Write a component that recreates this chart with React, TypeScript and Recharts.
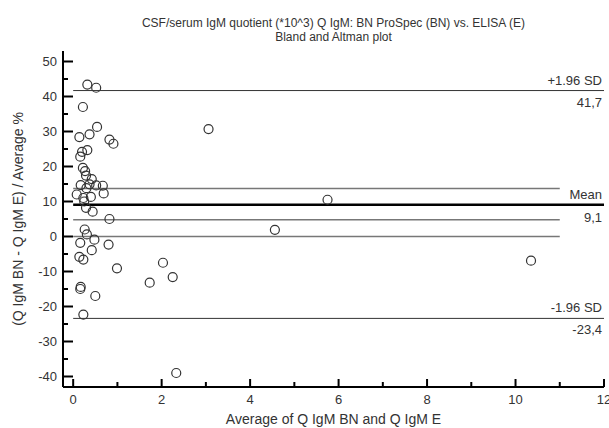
import {
  ScatterChart,
  Scatter,
  XAxis,
  YAxis,
  ReferenceLine,
} from 'recharts';

// Bland-Altman data: average of both methods vs. relative difference (%)
const avgValues = [
  0.32, 0.52, 0.22, 0.54, 3.06, 0.37, 0.14, 0.82, 0.91, 0.32,
  0.2, 0.16, 0.22, 0.27, 0.29, 0.42, 0.17, 0.37, 0.52, 0.67,
  0.3, 0.69, 0.08, 0.23, 0.4, 0.29, 0.44, 0.82, 0.26, 0.31,
  0.48, 0.16, 0.8, 0.42, 0.14, 0.23, 2.03, 0.99, 2.25, 1.73,
  0.17, 0.16, 0.5, 0.23, 2.33, 4.56, 5.75, 10.35, 0.25,
];
const diffPctValues = [
  43.4, 42.5, 37.0, 31.3, 30.7, 29.2, 28.4, 27.7, 26.5, 24.7,
  24.2, 22.8, 19.6, 18.7, 17.4, 16.4, 14.7, 14.9, 14.6, 14.5,
  13.8, 12.3, 12.0, 11.0, 11.3, 8.2, 7.1, 5.0, 2.0, 0.6,
  -0.9, -1.8, -2.3, -3.9, -5.8, -6.6, -7.5, -9.1, -11.6, -13.2,
  -14.4, -15.0, -17.0, -22.3, -39.0, 1.9, 10.5, -6.9, 10.0,
];

const meanDiff = 9.1;
const upperLimit = 41.7;
const lowerLimit = -23.4;
const meanCiUpper = 13.7;
const meanCiLower = 4.8;

const xTicks = [0, 1, 2, 3, 4, 5, 6, 7, 8, 9, 10, 11, 12];
const yTicks = [-40, -35, -30, -25, -20, -15, -10, -5, 0, 5, 10, 15, 20, 25, 30, 35, 40, 45, 50];

const FONT = '"Liberation Sans", Arial, sans-serif';
const TEXT = '#333';

const points = avgValues.map((avg, i) => ({ avg, diff: diffPctValues[i] }));

// eslint-disable-next-line @typescript-eslint/no-explicit-any
const YTick = (props: any) => {
  const { x, y, payload } = props;
  const major = payload.value % 10 === 0;
  return (
    <g>
      <line x1={x + 6} x2={x + 6 + (major ? 10 : 5)} y1={y} y2={y} stroke="#000" strokeWidth={2} />
      {major && (
        <text x={x} y={y + 4.5} textAnchor="end" fontSize={13} fill={TEXT} fontFamily={FONT}>
          {payload.value}
        </text>
      )}
    </g>
  );
};

// eslint-disable-next-line @typescript-eslint/no-explicit-any
const XTick = (props: any) => {
  const { x, y, payload } = props;
  const major = payload.value % 2 === 0;
  return (
    <g>
      <line x1={x} x2={x} y1={y} y2={y - (major ? 8 : 5)} stroke="#000" strokeWidth={2} />
      {major && (
        <text x={x} y={y + 17} textAnchor="middle" fontSize={13} fill={TEXT} fontFamily={FONT}>
          {payload.value}
        </text>
      )}
    </g>
  );
};

const limitLabel = (title: string, value: string, above: number, below: number) =>
  // eslint-disable-next-line @typescript-eslint/no-explicit-any
  (props: any) => {
    const { viewBox } = props;
    const right = viewBox.x + viewBox.width - 2;
    return (
      <g fontSize={13} fill={TEXT} fontFamily={FONT}>
        <text x={right} y={viewBox.y - above} textAnchor="end">{title}</text>
        <text x={right} y={viewBox.y + below} textAnchor="end">{value}</text>
      </g>
    );
  };

// eslint-disable-next-line @typescript-eslint/no-explicit-any
const yAxisLabel = (props: any) => {
  const { viewBox } = props;
  const cx = viewBox.x + 18;
  const cy = viewBox.y + viewBox.height / 2;
  return (
    <text
      x={cx}
      y={cy}
      transform={`rotate(-90, ${cx}, ${cy})`}
      textAnchor="middle"
      dominantBaseline="central"
      fontSize={14}
      fill={TEXT}
      fontFamily={FONT}
    >
      (Q IgM BN - Q IgM E) / Average %
    </text>
  );
};

// eslint-disable-next-line @typescript-eslint/no-explicit-any
const xAxisLabel = (props: any) => {
  const { viewBox } = props;
  return (
    <text
      x={viewBox.x + viewBox.width / 2}
      y={viewBox.y + 37}
      textAnchor="middle"
      fontSize={14}
      fill={TEXT}
      fontFamily={FONT}
    >
      Average of Q IgM BN and Q IgM E
    </text>
  );
};

// eslint-disable-next-line @typescript-eslint/no-explicit-any
const OpenCircle = (props: any) => (
  <circle cx={props.cx} cy={props.cy} r={4.5} fill="none" stroke="#333" strokeWidth={1.2} />
);

export default function App() {
  return (
    <div style={{ position: 'absolute', left: 0, top: 0, width: 609, height: 428, background: '#fff' }}>
      <div
        style={{
          position: 'absolute',
          left: 63,
          top: 16,
          width: 541,
          textAlign: 'center',
          fontFamily: FONT,
          fontSize: 12,
          lineHeight: '14px',
          color: TEXT,
        }}
      >
        CSF/serum IgM quotient (*10^3) Q IgM: BN ProSpec (BN) vs. ELISA (E)
        <br />
        Bland and Altman plot
      </div>
      <ScatterChart width={609} height={428} margin={{ top: 51, right: 5, bottom: 0, left: 0 }}>
        <XAxis
          dataKey="avg"
          type="number"
          domain={[-0.23, 12]}
          ticks={xTicks}
          interval={0}
          allowDataOverflow
          height={41}
          tickSize={0}
          tickMargin={0}
          tickLine={false}
          tick={<XTick />}
          axisLine={{ stroke: '#000', strokeWidth: 2 }}
          label={xAxisLabel}
        />
        <XAxis
          xAxisId="top"
          orientation="top"
          type="number"
          domain={[-0.23, 12]}
          height={0}
          tick={false}
          tickLine={false}
          axisLine={{ stroke: '#000', strokeWidth: 2 }}
        />
        <YAxis
          dataKey="diff"
          type="number"
          domain={[-43, 53]}
          ticks={yTicks}
          interval={0}
          allowDataOverflow
          width={63}
          tickSize={0}
          tickMargin={6}
          tickLine={false}
          tick={<YTick />}
          axisLine={{ stroke: '#000', strokeWidth: 2 }}
          label={yAxisLabel}
        />
        <YAxis
          yAxisId="right"
          orientation="right"
          type="number"
          domain={[-43, 53]}
          width={0}
          tick={false}
          tickLine={false}
          axisLine={{ stroke: '#000', strokeWidth: 2 }}
        />
        <ReferenceLine
          segment={[{ x: 0, y: meanCiUpper }, { x: 11, y: meanCiUpper }]}
          stroke="#777"
          strokeWidth={1.5}
        />
        <ReferenceLine
          segment={[{ x: 0, y: meanCiLower }, { x: 11, y: meanCiLower }]}
          stroke="#777"
          strokeWidth={1.5}
        />
        <ReferenceLine
          segment={[{ x: 0, y: 0 }, { x: 11, y: 0 }]}
          stroke="#777"
          strokeWidth={1.5}
        />
        <ReferenceLine
          segment={[{ x: 0, y: upperLimit }, { x: 12, y: upperLimit }]}
          stroke="#333"
          strokeWidth={1}
          label={limitLabel('+1.96 SD', '41,7', 6, 16)}
        />
        <ReferenceLine
          segment={[{ x: 0, y: meanDiff }, { x: 12, y: meanDiff }]}
          stroke="#000"
          strokeWidth={2.5}
          label={limitLabel('Mean', '9,1', 6, 17)}
        />
        <ReferenceLine
          segment={[{ x: 0, y: lowerLimit }, { x: 12, y: lowerLimit }]}
          stroke="#333"
          strokeWidth={1}
          label={limitLabel('-1.96 SD', '-23,4', 6, 16)}
        />
        <Scatter data={points} shape={<OpenCircle />} isAnimationActive={false} />
      </ScatterChart>
    </div>
  );
}
